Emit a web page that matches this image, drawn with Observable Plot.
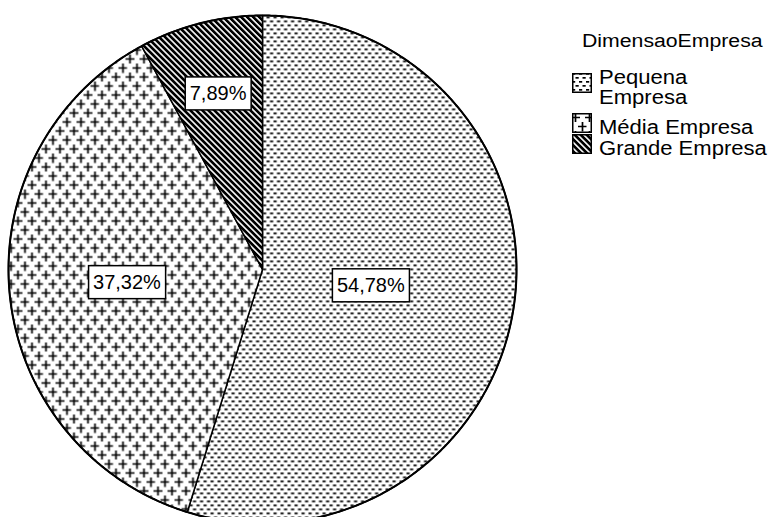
<!DOCTYPE html>
<html>
<head>
<meta charset="utf-8">
<script src="https://cdn.jsdelivr.net/npm/d3@7"></script>
<script src="https://cdn.jsdelivr.net/npm/@observablehq/plot@0.6"></script>
<style>
  html, body { margin: 0; padding: 0; background: #fff; overflow: hidden; }
  #wrap { position: relative; width: 770px; height: 517px; overflow: hidden;
          font-family: "Liberation Sans", Arial, sans-serif; color: #000; }
  #legend { position: absolute; left: 572px; top: 31px; }
  #legend .ltitle { font-size: 18px; line-height: 20px; margin-left: 10px;
                    transform: scaleX(1.18); transform-origin: left center; white-space: nowrap; }
  #legend .items { margin-top: 15.5px; }
  #legend .item { display: flex; align-items: center; }
  #legend .item:nth-child(1) { margin-bottom: 10px; }
  #legend .item:nth-child(2) { margin-bottom: 1.8px; }
  #legend .item svg { flex: none; display: block; position: relative; top: -4px; }
  #legend .item .txt { font-size: 19.5px; line-height: 20px; margin-left: 7px; width: 150px;
                       transform: scaleX(1.13); transform-origin: left center; }
</style>
</head>
<body>
<svg width="0" height="0" style="position:absolute">
  <defs>
    <pattern id="pat-pequena" patternUnits="userSpaceOnUse" width="7" height="8">
      <rect width="7" height="8" fill="#fff"/>
      <rect x="0" y="0" width="3.2" height="1.7" fill="#000"/>
      <rect x="3.5" y="4" width="3.2" height="1.7" fill="#000"/>
    </pattern>
    <pattern id="pat-media" patternUnits="userSpaceOnUse" width="14" height="18">
      <rect width="14" height="18" fill="#fff"/>
      <path d="M-1,4.5h9M3.5,0v9M6,13.5h9M10.5,9v9" stroke="#000" stroke-width="1.7" fill="none"/>
      <path d="M-1,13.5h1.5M13,4.5h1.5M10.5,-1v1.5" stroke="#000" stroke-width="1.7" fill="none"/>
    </pattern>
    <pattern id="pat-grande" patternUnits="userSpaceOnUse" width="4.25" height="4.25" patternTransform="rotate(45)">
      <rect width="4.25" height="4.25" fill="#000"/>
      <rect width="4.25" height="1.6" fill="#fff"/>
    </pattern>
  </defs>
</svg>
<div id="wrap"></div>
<script>
// ---- data ----
const legendTitle = "DimensaoEmpresa";
const categories = ["Pequena Empresa", "Média Empresa", "Grande Empresa"];
const percentages = [54.78, 37.32, 7.89];
const percentLabels = ["54,78%", "37,32%", "7,89%"];
// ---- styles ----
const patternFills = ["url(#pat-pequena)", "url(#pat-media)", "url(#pat-grande)"];

const total = d3.sum(percentages);
let acc = 0;
const slices = categories.map((c, i) => {
  const a0 = acc / total * 2 * Math.PI;
  acc += percentages[i];
  const a1 = acc / total * 2 * Math.PI;
  const share = percentages[i] / total;
  return {category: c, value: percentages[i], label: percentLabels[i], a0, a1, share,
          mid: (a0 + a1) / 2, lr: 0.76 - 0.6 * share};
});

// polygon outlines in data space (unit circle, clockwise from 12 o'clock)
function slicePoints(s) {
  const pts = [{category: s.category, x: 0, y: 0}];
  const n = Math.max(2, Math.ceil((s.a1 - s.a0) / (Math.PI / 360)));
  for (let k = 0; k <= n; k++) {
    const a = s.a0 + (s.a1 - s.a0) * k / n;
    pts.push({category: s.category, x: Math.sin(a), y: Math.cos(a)});
  }
  return pts;
}
const circlePts = d3.range(0, 721).map(k => ({x: Math.sin(k / 720 * 2 * Math.PI), y: Math.cos(k / 720 * 2 * Math.PI)}));

const plot = Plot.plot({
  width: 770,
  height: 517,
  margin: 0,
  style: {overflow: "hidden", background: "#fff"},
  x: {domain: [-1, 1], range: [8, 516], axis: null},
  y: {domain: [-1, 1], range: [523, 15], axis: null},
  marks: [
    ...slices.map((s, i) => Plot.line(slicePoints(s), {
      x: "x", y: "y", curve: "linear-closed",
      fill: patternFills[i], stroke: "#000", strokeWidth: 1.5, strokeLinejoin: "round"
    })),
    Plot.line(circlePts, {x: "x", y: "y", stroke: "#000", strokeWidth: 2, curve: "linear-closed"}),
    Plot.text(slices, {
      x: d => d.lr * Math.sin(d.mid),
      y: d => d.lr * Math.cos(d.mid),
      text: "label",
      fontSize: 20,
      fontFamily: "Liberation Sans, Arial, sans-serif",
      fill: "#000",
      className: "pielabel"
    })
  ]
});

const wrap = document.getElementById("wrap");
wrap.appendChild(plot);

// white boxes with black border behind labels
plot.querySelectorAll(".pielabel text").forEach(t => {
  const b = t.getBBox();
  const r = document.createElementNS("http://www.w3.org/2000/svg", "rect");
  r.setAttribute("x", b.x - 4.5);
  r.setAttribute("y", b.y - 5.5);
  r.setAttribute("width", b.width + 9);
  r.setAttribute("height", b.height + 11);
  r.setAttribute("fill", "#fff");
  r.setAttribute("stroke", "#000");
  r.setAttribute("stroke-width", 1.5);
  const tr = t.getAttribute("transform");
  if (tr) r.setAttribute("transform", tr);
  t.parentNode.insertBefore(r, t);
});

// legend
const legend = document.createElement("div");
legend.id = "legend";
const lt = document.createElement("div");
lt.className = "ltitle";
lt.textContent = legendTitle;
legend.appendChild(lt);
const items = document.createElement("div");
items.className = "items";
categories.forEach((c, i) => {
  const row = document.createElement("div");
  row.className = "item";
  row.innerHTML = `<svg width="20" height="20"><rect x="0.75" y="0.75" width="18.5" height="18.5" fill="${patternFills[i]}" stroke="#000" stroke-width="1.5"/></svg>`;
  const tx = document.createElement("div");
  tx.className = "txt";
  tx.textContent = c;
  row.appendChild(tx);
  items.appendChild(row);
});
legend.appendChild(items);
wrap.appendChild(legend);
</script>
</body>
</html>
